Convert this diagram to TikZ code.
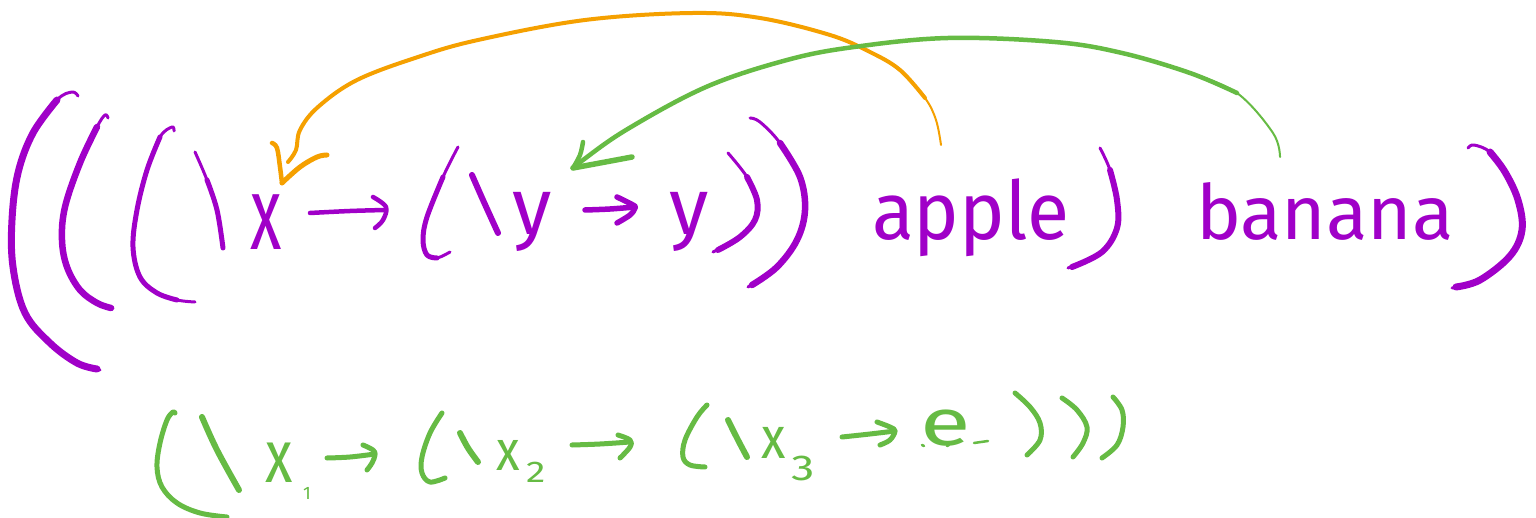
\documentclass[tikz,border=0pt]{standalone}
\usepackage{fontspec}
\setmainfont{Fira Sans}
\definecolor{purp}{HTML}{A000C8}
\definecolor{orng}{HTML}{F5A000}
\definecolor{grn}{HTML}{66BB44}
\begin{document}
\begin{tikzpicture}[x=1pt,y=-1pt,
 pstroke/.style={draw=purp,line width=5.5pt,line cap=round,line join=round},
 pfine/.style={draw=purp,line width=3pt,line cap=round,line join=round},
 pthin/.style={draw=purp,line width=4.5pt,line cap=round,line join=round},
 gstroke/.style={draw=grn,line width=5pt,line cap=round,line join=round},
 ostroke/.style={draw=orng,line width=4pt,line cap=round,line join=round},
 othin/.style={draw=orng,line width=2pt,line cap=round,line join=round},
 gbig/.style={draw=grn,line width=4.5pt,line cap=round,line join=round},
 gthin/.style={draw=grn,line width=2pt,line cap=round,line join=round},
 ptext/.style={text=purp,inner sep=0pt,outer sep=0pt,anchor=base west},
 gtext/.style={text=grn,inner sep=0pt,outer sep=0pt,anchor=base west},
 sm/.style={smooth,tension=0.6}]
\fill[white] (0,0) rectangle (1536,518);
\useasboundingbox (0,0) rectangle (1536,518);

% ---------- top row (purple) ----------
\draw[pfine] plot[sm] coordinates {(78,96) (72,92) (57,100) (33,133) (18,173) (12,220) (13,267) (25,313) (50,343) (77,363) (100,370)};
\draw[pstroke,line width=7pt] plot[sm] coordinates {(57,100) (33,133) (18,173) (12,220) (13,267) (25,313) (50,343) (77,363) (97,369)};
\draw[pfine] plot[sm] coordinates {(108,118) (105,115) (97,127) (80,163) (65,207) (62,240) (67,267) (80,290) (97,303) (113,308)};
\draw[pstroke,line width=6.5pt] plot[sm] coordinates {(97,127) (80,163) (65,207) (62,240) (67,267) (80,290) (97,303) (111,308)};
\draw[pfine] plot[sm] coordinates {(174,131) (172,127) (160,137) (147,170) (137,210) (133,247) (140,277) (157,293) (177,300) (195,302)};
\draw[pstroke,line width=5pt] plot[sm] coordinates {(160,137) (147,170) (137,210) (133,247) (140,277) (157,293) (177,300)};
\draw[pfine] plot[sm] coordinates {(195,152) (207,180) (217,210) (223,248)};
\draw[pstroke,line width=5pt] plot[sm] coordinates {(207,180) (217,210) (223,248)};
\node[ptext,font=\fontsize{104}{110}\selectfont] (nx) at (250,250) {\scalebox{0.62}[1]{x}};
\draw[pthin] plot[sm] coordinates {(310,213) (350,211) (385,210)};
\draw[pthin] plot[sm] coordinates {(373,197) (386,207) (383,220) (375,228)};
\draw[pfine] plot[sm] coordinates {(458,147) (443,177) (427,217) (423,240) (427,255) (437,258) (450,252)};
\draw[pstroke,line width=5pt] plot[sm] coordinates {(443,177) (427,217) (423,240) (427,255) (437,258)};
\draw[pstroke,line width=6pt] plot[sm] coordinates {(472,175) (483,200) (498,233)};
\node[ptext,font=\fontsize{80}{90}\selectfont] (ny1) at (512,235) {y};
\draw[pstroke] plot[sm] coordinates {(585,210) (610,209) (635,207)};
\draw[pstroke] plot[sm] coordinates {(617,197) (633,205) (635,208) (630,215) (617,223)};
\node[ptext,font=\fontsize{80}{90}\selectfont] (ny2) at (669,235) {y};
\draw[pfine] plot[sm] coordinates {(728,153) (747,177) (757,200) (755,220) (740,237) (713,252)};
\draw[pstroke,line width=6pt] plot[sm] coordinates {(747,177) (757,200) (755,220) (740,237) (718,250)};
\draw[pfine] plot[sm] coordinates {(750,118) (760,122) (780,143) (800,177) (805,210) (797,240) (777,267) (748,287)};
\draw[pstroke,line width=6.5pt] plot[sm] coordinates {(780,143) (800,177) (805,210) (797,240) (777,267) (752,285)};
\node[ptext,font=\fontsize{81}{90}\selectfont] (napple) at (872,240) {\scalebox{0.95}[1]{apple}};
\draw[pfine] plot[sm] coordinates {(1100,148) (1110,170) (1117,200) (1117,228) (1102,252) (1068,268)};
\draw[pstroke,line width=6pt] plot[sm] coordinates {(1110,170) (1117,200) (1117,228) (1102,252) (1072,267)};
\node[ptext,font=\fontsize{76}{90}\selectfont] (nbanana) at (1196,240) {banana};
\draw[pfine] plot[sm] coordinates {(1468,148) (1474,145) (1490,152) (1505,172) (1518,200) (1522,230) (1510,256) (1480,280) (1452,288)};
\draw[pstroke,line width=7pt] plot[sm] coordinates {(1490,152) (1505,172) (1518,200) (1522,230) (1510,256) (1480,280) (1456,287)};

% ---------- orange arrow: apple -> x ----------
\coordinate (oS) at (941,145);
\coordinate (oM) at (925,98);
\coordinate (oE) at (288,162);
\coordinate (oT) at (282,183);
\draw[othin] plot[sm] coordinates {(oS) (936,120) (oM) (900,70)};
\draw[ostroke] plot[sm] coordinates {(oM) (900,70) (870,52) (830,35) (760,18) (693,13) (585,20) (478,40) (418,57) (357,80) (318,107) (300,130) (296,150) (oE)};
\draw[ostroke,line width=4.5pt] plot[sm] coordinates {(272,143) (277,148) (280,167) (oT)};
\draw[ostroke,line width=5pt] plot[sm] coordinates {(oT) (300,167) (317,157) (327,155)};

% ---------- green arrow: banana -> y ----------
\coordinate (gS) at (1280,157);
\coordinate (gM) at (1237,93);
\coordinate (gT) at (573,168);
\draw[gthin] plot[sm] coordinates {(gS) (1273,133) (gM) (1190,73)};
\draw[gbig] plot[sm] coordinates {(gM) (1190,73) (1122,53) (1055,42) (948,38) (854,47) (787,60) (706,87) (626,130) (579,163) (gT)};
\draw[gbig] plot[sm] coordinates {(583,142) (580,155) (gT)};
\draw[gbig,line width=5.5pt] plot[sm] coordinates {(gT) (600,163) (632,157)};

% ---------- bottom row (green) ----------
\draw[gstroke] plot[sm] coordinates {(175,413) (173,412) (167,420) (160,443) (157,467) (162,487) (177,503) (200,513) (227,517)};
\draw[gstroke,line width=6pt] plot[sm] coordinates {(202,417) (217,450) (239,490)};
\node[gtext,font=\fontsize{75}{80}\selectfont] (nx1) at (265,482) {\scalebox{0.75}[1]{x}};
\node[gtext,font=\fontsize{18}{20}\selectfont] (nsub1) at (303,499) {1};
\draw[gstroke] plot[sm] coordinates {(327,458) (350,457) (375,454)};
\draw[gstroke] plot[sm] coordinates {(363,445) (373,450) (375,455) (372,463) (367,470)};
\draw[gstroke] plot[sm] coordinates {(442,413) (430,433) (422,457) (422,473) (430,482) (445,478)};
\draw[gstroke,line width=6pt] plot[sm] coordinates {(460,433) (468,448) (478,462)};
\node[gtext,font=\fontsize{57}{60}\selectfont] (nx2) at (496,470) {\scalebox{0.85}[1]{x}};
\node[gtext,font=\fontsize{30}{30}\selectfont] (nsub2) at (526,482) {\scalebox{1.3}[1]{2}};
\draw[gstroke] plot[sm] coordinates {(572,445) (600,444) (630,442)};
\draw[gstroke] plot[sm] coordinates {(618,435) (630,440) (630,447) (620,458)};
\draw[gstroke] plot[sm] coordinates {(707,405) (697,417) (685,440) (683,457) (690,465) (705,467)};
\draw[gstroke,line width=6pt] plot[sm] coordinates {(728,420) (738,440) (747,457)};
\node[gtext,font=\fontsize{59}{60}\selectfont] (nx3) at (761,458) {\scalebox{0.85}[1]{x}};
\node[gtext,font=\fontsize{36}{40}\selectfont] (nsub3) at (791,480) {\scalebox{1.3}[1]{3}};
\draw[gstroke] plot[sm] coordinates {(842,437) (870,434) (895,431)};
\draw[gstroke] plot[sm] coordinates {(877,422) (890,427) (895,431) (890,440) (880,445)};
\node[gtext,font=\fontsize{66}{70}\selectfont] (ne) at (920,445) {\scalebox{1.4}[1]{e}};
\draw[gstroke,line width=2.5pt] (922,445) -- (924,446);
\draw[gstroke,line width=2.5pt] (947,446) -- (949,445);
\draw[gstroke,line width=2.5pt] (974,443) -- (988,441);
\draw[gstroke] plot[sm] coordinates {(1015,393) (1030,407) (1040,423) (1040,440) (1027,455)};
\draw[gstroke] plot[sm] coordinates {(1062,398) (1077,410) (1087,427) (1083,443) (1073,457)};
\draw[gstroke] plot[sm] coordinates {(1113,397) (1122,410) (1123,427) (1117,445) (1102,458)};
\end{tikzpicture}
\end{document}
